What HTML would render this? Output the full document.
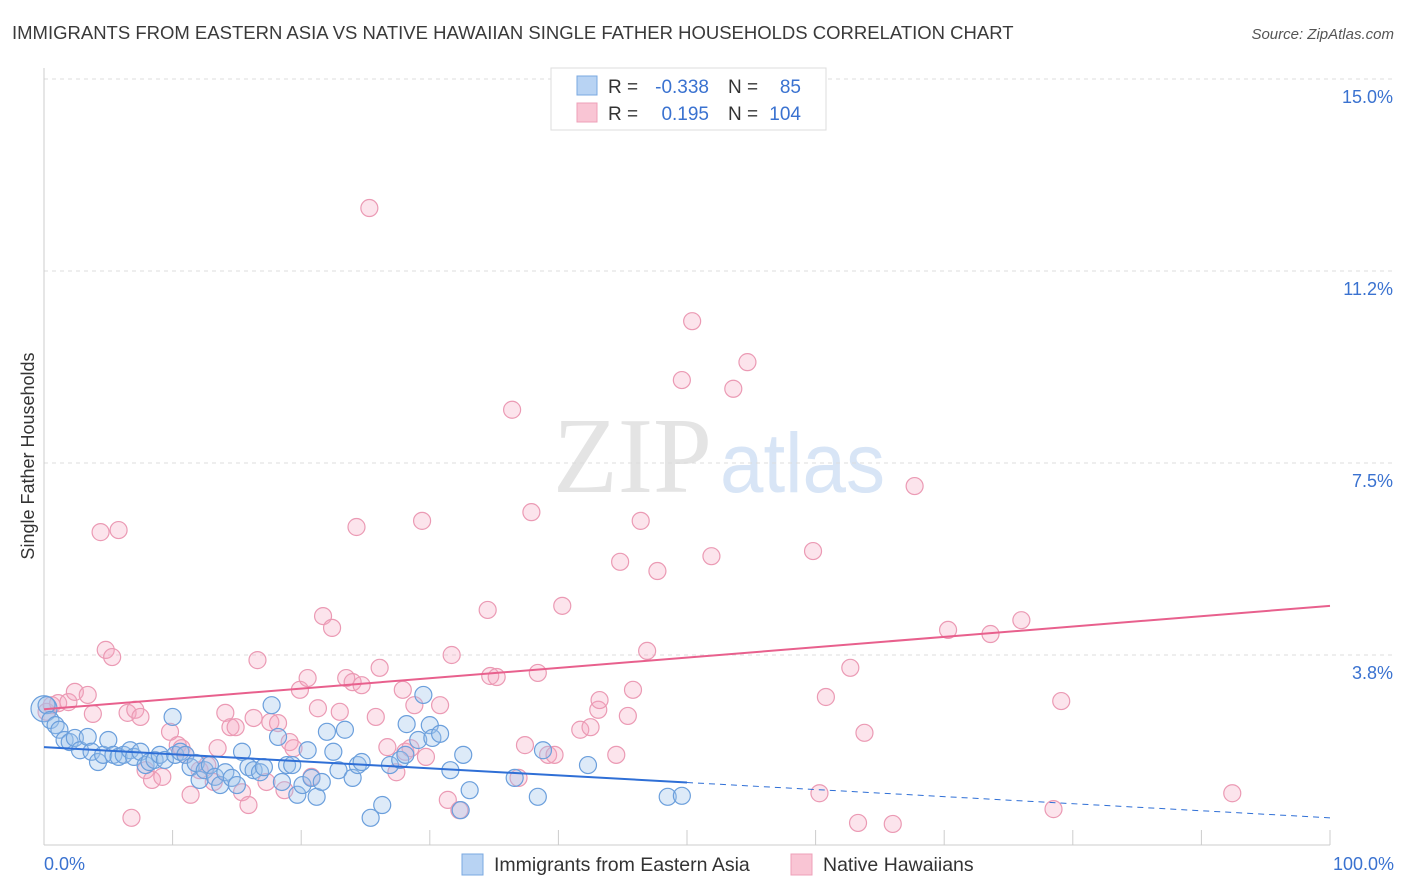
<!DOCTYPE html>
<html><head><meta charset="utf-8"><style>
body{margin:0;background:#fff;font-family:"Liberation Sans",sans-serif;}
svg{display:block}
</style></head><body>
<svg id="chart" width="1406" height="892">
<text x="12" y="39" font-size="18.5" fill="#3a3a3a">IMMIGRANTS FROM EASTERN ASIA VS NATIVE HAWAIIAN SINGLE FATHER HOUSEHOLDS CORRELATION CHART</text>
<text x="1394" y="39" font-size="15" font-style="italic" fill="#555" text-anchor="end">Source: ZipAtlas.com</text>
<text x="553" y="492" font-size="108" font-family="Liberation Serif" fill="#e4e4e4" textLength="159" lengthAdjust="spacingAndGlyphs">ZIP</text>
<text x="720" y="492" font-size="84" fill="#d8e5f6" textLength="165" lengthAdjust="spacingAndGlyphs">atlas</text>
<g id="grid"></g>
<g id="axes"></g>
<g id="marks"></g>
<text transform="translate(34,456) rotate(-90)" font-size="18" fill="#333" text-anchor="middle">Single Father Households</text>
<g>
<rect x="551" y="68" width="275" height="62" fill="#fff" stroke="#ddd"/>
<rect x="577" y="76" width="20" height="19" fill="#b8d3f3" stroke="#7aa8e0"/>
<rect x="577" y="103" width="20" height="19" fill="#f9c5d4" stroke="#eea0b8"/>
<text x="608" y="93" font-size="19" fill="#333">R = </text><text x="709" y="93" font-size="19" fill="#3a72d0" text-anchor="end">-0.338</text>
<text x="728" y="93" font-size="19" fill="#333">N = </text><text x="801" y="93" font-size="19" fill="#3a72d0" text-anchor="end">85</text>
<text x="608" y="120" font-size="19" fill="#333">R = </text><text x="709" y="120" font-size="19" fill="#3a72d0" text-anchor="end">0.195</text>
<text x="728" y="120" font-size="19" fill="#333">N = </text><text x="801" y="120" font-size="19" fill="#3a72d0" text-anchor="end">104</text>
</g>
<g>
<rect x="462" y="854" width="21" height="21" fill="#b8d3f3" stroke="#7aa8e0"/>
<text x="494" y="871" font-size="19.5" fill="#333">Immigrants from Eastern Asia</text>
<rect x="791" y="854" width="21" height="21" fill="#f9c5d4" stroke="#eea0b8"/>
<text x="823" y="871" font-size="19.5" fill="#333">Native Hawaiians</text>
</g>
</svg>
<script>
const blueX=[0.2,0.5,0.9,1.2,1.6,2.0,2.4,2.8,3.4,3.7,4.2,4.6,5.0,5.4,5.8,6.2,6.7,7.0,7.5,7.9,8.2,8.6,9.0,9.4,10.0,10.2,10.6,11.0,11.4,11.8,12.1,12.5,12.9,13.3,13.7,14.1,14.6,15.0,15.4,15.9,16.3,16.8,17.1,17.7,18.2,18.5,18.9,19.3,19.7,20.1,20.5,20.8,21.2,21.6,22.0,22.5,22.9,23.4,24.0,24.4,24.7,25.4,26.3,26.9,27.7,28.1,28.2,29.1,29.5,30.0,30.2,30.8,31.6,32.4,32.6,33.1,36.6,38.4,38.8,42.3,48.5,49.6];
const blueY=[2.77,2.48,2.38,2.29,2.09,2.05,2.13,1.89,2.15,1.86,1.66,1.80,2.09,1.80,1.76,1.80,1.89,1.76,1.86,1.60,1.66,1.70,1.80,1.70,2.54,1.80,1.86,1.80,1.56,1.64,1.31,1.50,1.60,1.37,1.21,1.46,1.35,1.21,1.86,1.56,1.50,1.46,1.56,2.77,2.15,1.27,1.60,1.60,1.02,1.21,1.89,1.35,0.98,1.27,2.25,1.86,1.50,2.29,1.35,1.60,1.66,0.57,0.82,1.60,1.70,1.80,2.40,2.09,2.97,2.38,2.13,2.21,1.50,0.72,1.80,1.11,1.35,0.98,1.89,1.60,0.98,1.00];
const pinkX=[0.2,0.6,1.1,1.9,2.4,3.4,3.8,4.4,5.8,4.8,5.3,6.5,7.1,6.8,7.5,7.9,8.4,9.2,9.8,10.4,10.7,11.0,11.4,12.1,12.7,13.2,13.5,14.1,14.5,14.9,15.4,15.9,16.3,16.6,17.3,17.6,18.2,18.7,19.1,19.4,19.9,20.5,20.8,21.3,21.7,22.4,23.0,23.5,24.0,24.3,24.7,25.3,25.8,26.1,26.7,27.4,27.9,28.1,28.5,28.8,29.4,29.7,30.8,31.7,31.4,32.3,34.5,34.7,35.2,36.4,36.9,37.4,37.9,38.4,39.2,39.7,40.3,41.7,42.5,43.1,43.2,44.5,44.8,45.4,45.8,46.4,46.9,47.7,49.6,50.4,51.9,53.6,54.7,59.8,60.3,60.8,62.7,63.3,63.8,66.0,67.7,70.3,73.6,76.0,78.5,79.1,92.4];
const pinkY=[2.64,2.77,2.81,2.83,3.03,2.97,2.60,6.15,6.19,3.85,3.71,2.62,2.68,0.57,2.54,1.50,1.31,1.37,2.25,1.99,1.93,1.80,1.02,1.50,1.60,1.27,1.93,2.62,2.34,2.34,1.07,0.82,2.52,3.65,1.27,2.44,2.42,1.11,2.05,1.93,3.07,3.30,1.37,2.71,4.51,4.28,2.64,3.30,3.22,6.25,3.16,12.48,2.54,3.50,1.95,1.46,3.07,1.86,1.93,2.77,6.37,1.76,2.77,3.75,0.92,0.72,4.63,3.34,3.32,8.54,1.35,1.99,6.54,3.40,1.80,1.80,4.71,2.29,2.34,2.68,2.87,1.80,5.57,2.56,3.07,6.37,3.83,5.39,9.12,10.27,5.68,8.95,9.47,5.78,1.05,2.93,3.50,0.47,2.23,0.45,7.05,4.24,4.16,4.43,0.74,2.85,1.05];
const blueTrend=[1.95,0.57];
const pinkTrend=[2.69,4.71];
const yTicks=[15.0,11.25,7.5,3.75];
const yTickLabels=["15.0%","11.2%","7.5%","3.8%"];
const xTicks=[0,10,20,30,40,50,60,70,80,90,100];

const NS="http://www.w3.org/2000/svg";
const sx=v=>44+v*12.86;
const sy=v=>847-v*51.2;
function mk(tag,attrs,parent){const e=document.createElementNS(NS,tag);for(const k in attrs)e.setAttribute(k,attrs[k]);parent.appendChild(e);return e;}
const grid=document.getElementById('grid'),axes=document.getElementById('axes'),marks=document.getElementById('marks');
yTicks.forEach((t,i)=>{
 const l=mk('line',{x1:44,x2:1394,y1:sy(t),y2:sy(t),stroke:'#ddd','stroke-dasharray':'4,4'},grid);
 
 
 const tx=mk('text',{x:1393,y:sy(t)+24,'font-size':18,fill:'#3a72d0','text-anchor':'end'},axes);
 tx.textContent=yTickLabels[i];
 
 
});
const ya=mk('line',{x1:44,x2:44,y1:68,y2:845,stroke:'#ccc'},axes);


const xa=mk('line',{x1:44,x2:1330,y1:845,y2:845,stroke:'#ccc'},axes);


xTicks.forEach(t=>{
 const l=mk('line',{x1:sx(t),x2:sx(t),y1:830,y2:845,stroke:'#ccc'},axes);
 
 
});
const xl0=mk('text',{x:44,y:870,'font-size':18,fill:'#3a72d0'},axes);xl0.textContent='0.0%';


const xl1=mk('text',{x:1394,y:870,'font-size':18,fill:'#3a72d0','text-anchor':'end'},axes);xl1.textContent='100.0%';



pinkX.forEach((x,i)=>{
 const c=mk('circle',{cx:sx(x),cy:sy(pinkY[i]),r:8.5,fill:'rgba(244,167,191,0.3)',stroke:'#eb9ab4','stroke-width':1.2},marks);
 
 
});
const big=mk('circle',{cx:sx(0),cy:sy(2.7),r:13,fill:'rgba(158,195,234,0.35)',stroke:'#6b9fdc','stroke-width':1.2},marks);


blueX.forEach((x,i)=>{
 const c=mk('circle',{cx:sx(x),cy:sy(blueY[i]),r:8.5,fill:'rgba(158,195,234,0.35)',stroke:'#6b9fdc','stroke-width':1.2},marks);
 
 
});
const by=x=>blueTrend[0]+(blueTrend[1]-blueTrend[0])*x/100;
const bl=mk('line',{x1:sx(0),y1:sy(by(0)),x2:sx(50),y2:sy(by(50)),stroke:'#2f6fd6','stroke-width':2},marks);


const bd=mk('line',{x1:sx(50),y1:sy(by(50)),x2:sx(100),y2:sy(by(100)),stroke:'#2f6fd6','stroke-width':1,'stroke-dasharray':'6,5'},marks);


const pl=mk('line',{x1:sx(0),y1:sy(pinkTrend[0]),x2:sx(100),y2:sy(pinkTrend[1]),stroke:'#e8608d','stroke-width':2},marks);


</script>
</body></html>
